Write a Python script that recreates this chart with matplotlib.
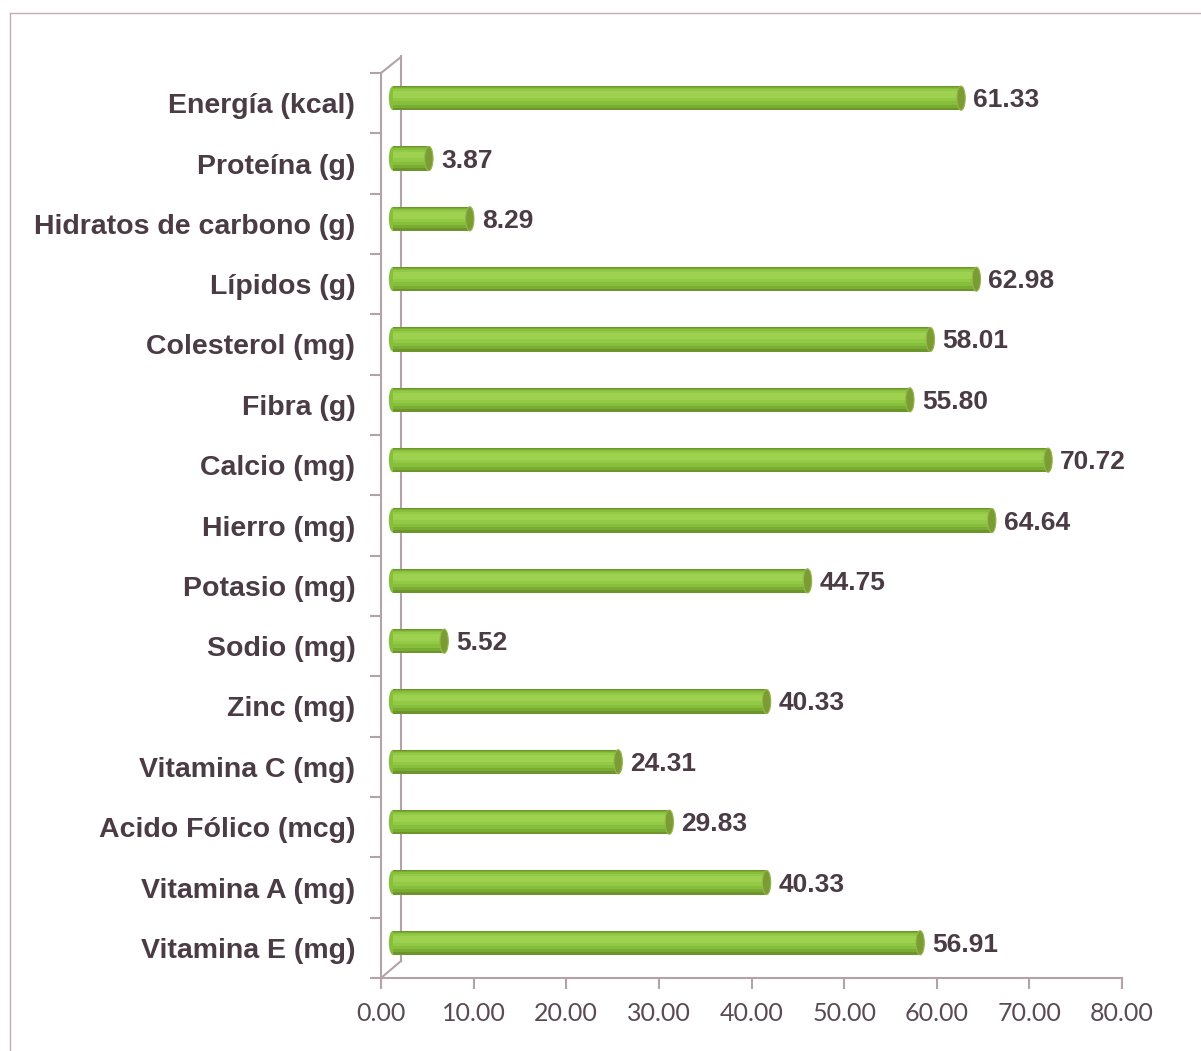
import numpy as np
import matplotlib
matplotlib.use("Agg")
import matplotlib.pyplot as plt
import matplotlib.transforms as mtransforms
from matplotlib.patches import Ellipse
from matplotlib.lines import Line2D

# Datos (% de adecuación)
categorias = ['Energía (kcal)', 'Proteína (g)', 'Hidratos de carbono (g)', 'Lípidos (g)',
              'Colesterol (mg)', 'Fibra (g)', 'Calcio (mg)', 'Hierro (mg)', 'Potasio (mg)',
              'Sodio (mg)', 'Zinc (mg)', 'Vitamina C (mg)', 'Acido Fólico (mcg)',
              'Vitamina A (mg)', 'Vitamina E (mg)']
valores = [61.33, 3.87, 8.29, 62.98, 58.01, 55.80, 70.72, 64.64, 44.75,
           5.52, 40.33, 24.31, 29.83, 40.33, 56.91]
xticks = [0, 10, 20, 30, 40, 50, 60, 70, 80]

texto = '#4a3b45'
linea = '#b3a2aa'

fig = plt.figure(figsize=(12.01, 10.51), dpi=100)
ax = fig.add_axes([381 / 1201, 73 / 1051, 741 / 1201, 905 / 1051])

n = len(categorias)
y = np.arange(n)
ax.set_xlim(0, 80)
ax.set_ylim(n - 0.5, -0.5)

# desplazamiento "3D" de las barras (hacia la pared del fondo)
tr_bar = ax.transData + mtransforms.ScaledTranslation(12 / 100, 5 / 100, fig.dpi_scale_trans)
tr_lbl = ax.transData + mtransforms.ScaledTranslation(24 / 100, 3 / 100, fig.dpi_scale_trans)

h = 0.40
capw = 0.9
# capas para simular el cilindro (color, fraccion de alto, desplazamiento hacia arriba)
capas = [('#6c962c', 1.00, 0.00),
         ('#7aac34', 0.86, 0.015),
         ('#86bf3b', 0.70, 0.03),
         ('#92c945', 0.50, 0.045),
         ('#9fd150', 0.28, 0.06)]
for yi, v in zip(y, valores):
    for k, (c, f, d) in enumerate(capas):
        ax.barh(yi - d, v, height=h * f, color=c, transform=tr_bar, zorder=3 + k)
    # extremo redondeado izquierdo
    ax.add_patch(Ellipse((0, yi), capw, h, facecolor='#86bf3b', edgecolor='none',
                         transform=tr_bar, zorder=2))
    # tapa derecha
    ax.add_patch(Ellipse((v, yi), capw, h, facecolor='#7b9c34', edgecolor='#94b84a',
                         lw=0.8, transform=tr_bar, zorder=9))
    ax.text(v, yi, f'{v:.2f}', transform=tr_lbl, ha='left', va='center',
            fontsize=19, fontweight='bold', color=texto, family='Liberation Sans')

# ejes
for s in ['top', 'right']:
    ax.spines[s].set_visible(False)
for s in ['left', 'bottom']:
    ax.spines[s].set_color(linea)
    ax.spines[s].set_linewidth(1.5)

ax.set_yticks(y)
ax.set_yticklabels(categorias, fontsize=20.5, fontweight='bold', color=texto,
                   family='Liberation Sans')
ax.tick_params(axis='y', which='major', length=0, pad=18.5)
ax.set_yticks(np.arange(-0.5, n, 1), minor=True)
ax.tick_params(axis='y', which='minor', length=8, width=1.5, color=linea, direction='out')

ax.set_xticks(xticks)
ax.set_xticklabels([f'{t:.2f}' for t in xticks], fontsize=18, color='#5a4a54', family='Lato')
ax.tick_params(axis='x', length=8, width=1.5, color=linea, direction='out', pad=9)

# pared del fondo (perspectiva)
tr_back = ax.transAxes + mtransforms.ScaledTranslation(20 / 100, 17 / 100, fig.dpi_scale_trans)
ax.add_line(Line2D([0, 0], [0, 1], transform=tr_back, color=linea, lw=1.5, clip_on=False))
fig.add_artist(Line2D([381 / 1201, 401 / 1201], [1 - 73 / 1051, 1 - 57 / 1051],
                      color=linea, lw=1.5))
fig.add_artist(Line2D([381 / 1201, 401 / 1201], [1 - 978 / 1051, 1 - 961 / 1051],
                      color=linea, lw=1.5))

# marco de la imagen
fig.add_artist(Line2D([10 / 1201, 1], [1 - 13 / 1051, 1 - 13 / 1051], color='#c9abb3', lw=1))
fig.add_artist(Line2D([10 / 1201, 10 / 1201], [0, 1 - 13 / 1051], color='#c9abb3', lw=1))

fig.savefig('out.png', dpi=100, facecolor='white')
